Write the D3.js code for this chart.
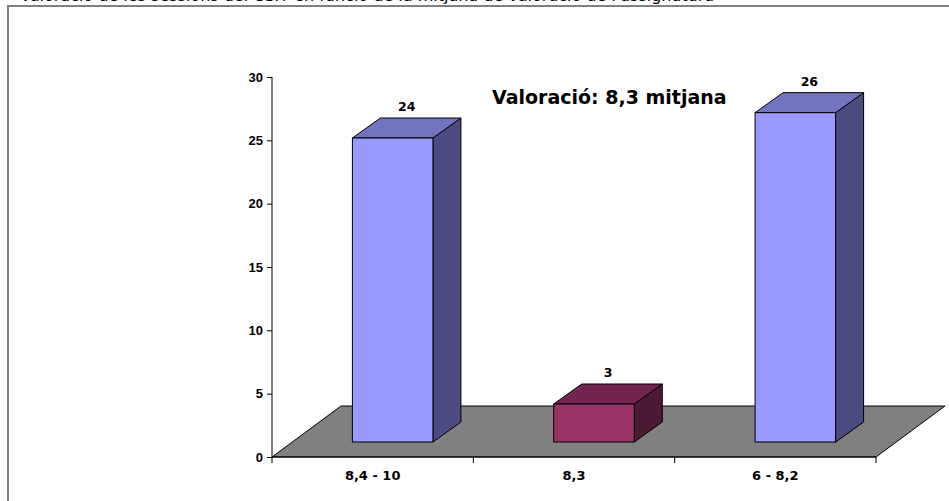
<!DOCTYPE html>
<html>
<head>
<meta charset="utf-8">
<script src="https://cdn.jsdelivr.net/npm/d3@7"></script>
<style>
  body { margin: 0; background: #fff; }
  svg { display: block; font-family: "DejaVu Sans", Verdana, sans-serif; }
</style>
</head>
<body>
<script>
// chart data
var categories = ["8,4 - 10", "8,3", "6 - 8,2"];
var values = [24, 3, 26];
var highlight = [false, true, false];
var yTicks = [0, 5, 10, 15, 20, 25, 30];
var titleText = "Valoració de les sessions del CSIT en funció de la mitjana de valoració de l'assignatura";
var noteText = "Valoració: 8,3 mitjana";

var width = 949, height = 501;

// 3d offsets (floor back edge, bar front, bar back)
var floorDx = 69, floorDy = -51,
    barDx = 20, barDy = -15,
    barDepthX = 28, barDepthY = -20;

var x = d3.scaleBand()
    .domain(categories)
    .range([272, 876])
    .paddingInner(0)
    .paddingOuter(0);
var y = d3.scaleLinear()
    .domain([0, 30])
    .range([457, 77]);

var colors = {
  normal: {front: "#9999ff", top: "#7373bf", side: "#4c4c80"},
  hi: {front: "#993366", top: "#73264d", side: "#4d1a33"}
};

var svg = d3.select("body").append("svg")
    .attr("width", width)
    .attr("height", height);

// title, cut off above the frame as in the source
svg.append("text")
    .attr("x", 20)
    .attr("y", 0.5)
    .style("font-size", "16px")
    .text(titleText);

// outer frame
svg.append("rect")
    .attr("x", 8)
    .attr("y", 6)
    .attr("width", 1000)
    .attr("height", 600)
    .attr("fill", "none")
    .attr("stroke", "#808080")
    .attr("stroke-width", 2);

// floor
var x0 = x.range()[0], x1 = x.range()[1], yb = y(0);
svg.append("polygon")
    .attr("points", [[x0, yb], [x1, yb], [x1 + floorDx, yb + floorDy], [x0 + floorDx, yb + floorDy]].join(" "))
    .attr("fill", "#808080")
    .attr("stroke", "#000")
    .attr("stroke-width", 1);

// bars
var bw = x.bandwidth() * 0.4;
var bars = svg.selectAll(".bar")
    .data(categories)
  .enter().append("g")
    .attr("class", "bar");

bars.each(function(d, i) {
  var g = d3.select(this);
  var c = highlight[i] ? colors.hi : colors.normal;
  var left = x(d) + x.bandwidth() / 2 - bw / 2 + barDx;
  var right = left + bw;
  var bottom = y(0) + barDy;
  var top = bottom - (y(0) - y(values[i]));
  // side
  g.append("polygon")
      .attr("points", [[right, top], [right + barDepthX, top + barDepthY], [right + barDepthX, bottom + barDepthY], [right, bottom]].join(" "))
      .attr("fill", c.side).attr("stroke", "#000").attr("stroke-width", 1).attr("stroke-linejoin", "round");
  // top
  g.append("polygon")
      .attr("points", [[left, top], [left + barDepthX, top + barDepthY], [right + barDepthX, top + barDepthY], [right, top]].join(" "))
      .attr("fill", c.top).attr("stroke", "#000").attr("stroke-width", 1).attr("stroke-linejoin", "round");
  // front
  g.append("rect")
      .attr("x", left).attr("y", top)
      .attr("width", bw).attr("height", bottom - top)
      .attr("fill", c.front).attr("stroke", "#000").attr("stroke-width", 1);
  // value label
  g.append("text")
      .attr("x", left + bw / 2 + barDepthX / 2)
      .attr("y", top + barDepthY - 7)
      .attr("text-anchor", "middle")
      .style("font-size", "12.5px")
      .style("font-weight", "bold")
      .text(values[i]);
});

// y axis
var yAxis = d3.axisLeft(y).tickValues(yTicks).tickSize(5).tickPadding(4);
var gy = svg.append("g")
    .attr("transform", "translate(" + x0 + ",0)")
    .call(yAxis);
gy.select(".domain").attr("d", "M0," + y(30) + "V" + y(0));
gy.selectAll("text").style("font-size", "13px").style("font-weight", "bold").attr("fill", "#000");
gy.selectAll("line").attr("stroke", "#000");

// x axis
var xTicks = categories.map(function(d) { return x(d); }).concat([x1]);
var gx = svg.append("g")
    .attr("transform", "translate(0," + yb + ")");
gx.append("line").attr("x1", x0).attr("x2", x1).attr("stroke", "#000");
gx.selectAll(".tick")
    .data(xTicks)
  .enter().append("line")
    .attr("x1", function(d) { return d; })
    .attr("x2", function(d) { return d; })
    .attr("y2", 6)
    .attr("stroke", "#000");
gx.selectAll(".lbl")
    .data(categories)
  .enter().append("text")
    .attr("x", function(d) { return x(d) + x.bandwidth() / 2; })
    .attr("y", 23)
    .attr("text-anchor", "middle")
    .style("font-size", "13px")
    .style("font-weight", "bold")
    .text(function(d) { return d; });

// note
svg.append("text")
    .attr("x", 492)
    .attr("y", 104)
    .style("font-size", "19px")
    .style("font-weight", "bold")
    .text(noteText);
</script>
</body>
</html>
